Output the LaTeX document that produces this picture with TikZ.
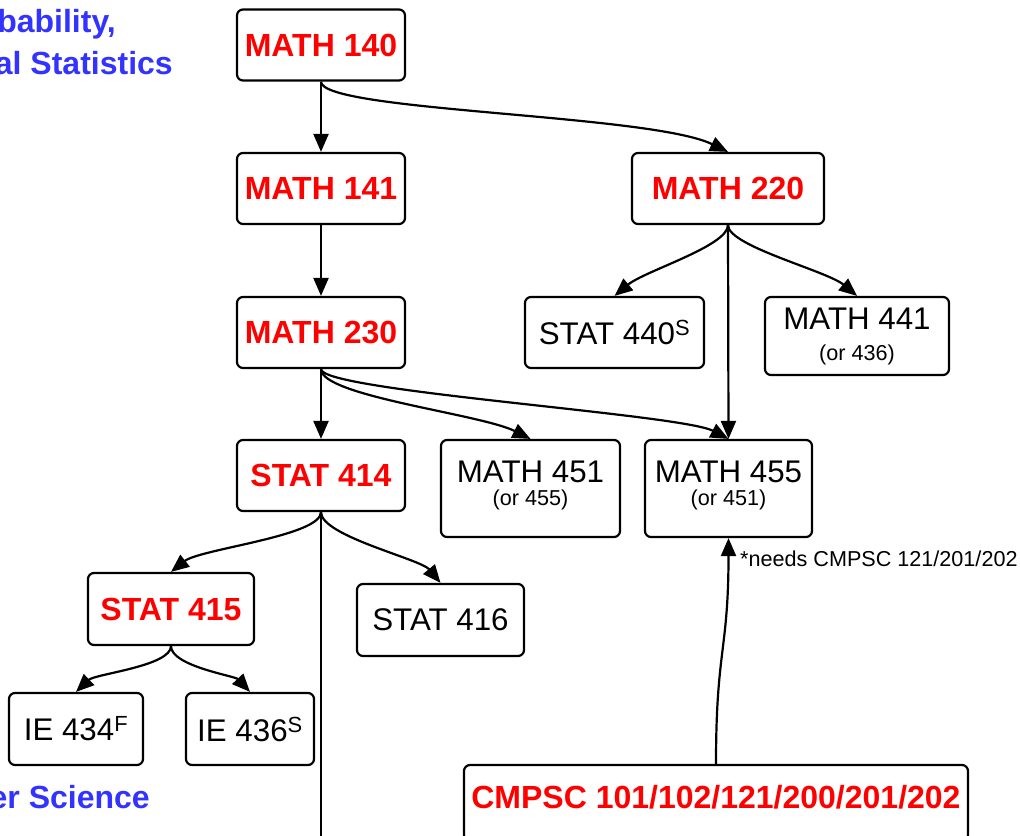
\documentclass[tikz,border=0pt]{standalone}
\usepackage{fontspec}
\setmainfont{Liberation Sans}
\usetikzlibrary{arrows.meta}
\definecolor{cred}{RGB}{255,0,0}
\definecolor{cblue}{RGB}{51,51,255}
\newcommand{\bigf}{\fontsize{31.3bp}{36bp}\selectfont}
\newcommand{\bigbf}{\fontsize{32bp}{36bp}\selectfont\bfseries}
\newcommand{\smallf}{\fontsize{21.6bp}{24bp}\selectfont}
\begin{document}
\begin{tikzpicture}[x=1bp,y=-1bp,
  box/.style={draw, line width=2.2bp, rounded corners=6bp, inner sep=0pt, font=\bigf, align=center, fill=white},
  redbox/.style={box, text=cred, font=\bigbf},
  arr/.style={line width=2.2bp, -{Triangle[length=18bp,width=15bp]}},
  plain/.style={line width=2.2bp},
  titletext/.style={text=cblue, font=\bigbf, inner sep=0pt, anchor=base east}
]
\useasboundingbox (0,0) rectangle (1020,836);
\begin{scope}
\clip (0,0) rectangle (1020,836);
% titles
\node[titletext] (t1) at (116,32) {bability,};
\node[titletext] (t2) at (173,74) {al Statistics};
\node[titletext] (t3) at (150,808) {er Science};
% boxes
\node[redbox, minimum width=168bp, minimum height=71bp] (m140) at (321,45) {MATH 140};
\node[redbox, minimum width=168bp, minimum height=71bp] (m141) at (321,188.5) {MATH 141};
\node[redbox, minimum width=168bp, minimum height=71bp] (m230) at (321,332.5) {MATH 230};
\node[redbox, minimum width=168bp, minimum height=71bp] (s414) at (321,475.5) {STAT 414};
\node[redbox, minimum width=192bp, minimum height=71bp] (m220) at (728,188.5) {MATH 220};
\node[box, minimum width=179bp, minimum height=71bp] (s440) at (614.5,332.5) {STAT 440\textsuperscript{S}};
\node[box, minimum width=184bp, minimum height=78bp, text depth=4.5bp] (m441) at (857,336) {MATH 441\\[-5bp]{\smallf (or 436)}};
\node[box, minimum width=179bp, minimum height=97bp, text depth=11.5bp] (m451) at (530.5,488.5) {MATH 451\\[-13bp]{\smallf (or 455)}};
\node[box, minimum width=167bp, minimum height=97bp, text depth=11.5bp] (m455) at (728.5,488.5) {MATH 455\\[-13bp]{\smallf (or 451)}};
\node[redbox, minimum width=166bp, minimum height=72bp] (s415) at (171,609) {STAT 415};
\node[box, minimum width=167bp, minimum height=72bp] (s416) at (440.5,620) {STAT 416};
\node[box, minimum width=134bp, minimum height=72bp] (ie434) at (76,729) {IE 434\textsuperscript{F}};
\node[box, minimum width=128bp, minimum height=72bp] (ie436) at (250,729) {IE 436\textsuperscript{S}};
\node[redbox, minimum width=504bp, minimum height=76bp, text height=22bp, text depth=12bp] (cmpsc) at (716,803) {CMPSC 101/102/121/200/201/202};
\node[anchor=base west, inner sep=0pt, font=\smallf] (needs) at (740,566) {*needs CMPSC 121/201/202};
\coordinate (bot) at (321,845);
% connectors
\draw[arr] (m140.south) -- (m141.north);
\draw[arr] (m140.south) .. controls +(0,30) and +(-78,-38) .. (m220.north);
\draw[arr] (m141.south) -- (m230.north);
\draw[arr] (m220.south) .. controls +(0,21) and +(30,-25) .. (s440.north);
\draw[arr] (m220.south) .. controls +(0,21) and +(-30,-25) .. (m441.north);
\draw[arr] (m220.south) -- (m455.north);
\draw[arr] (m230.south) -- (s414.north);
\draw[arr] (m230.south) .. controls +(0,27) and +(-50,-25) .. (m451.north);
\draw[arr] (m230.south) .. controls +(0,22) and +(-48,-25) .. (m455.north);
\draw[arr] (s414.south) .. controls +(0,24) and +(29,-23) .. (s415.north);
\draw[arr] (s414.south) .. controls +(0,24) and +(-20,-24) .. (s416.north);
\draw[plain] (s414.south) -- (bot);
\draw[arr] (s415.south) .. controls +(0,20) and +(19,-18) .. (ie434.north);
\draw[arr] (s415.south) .. controls +(0,20) and +(-15,-16) .. (ie436.north);
\draw[arr] (cmpsc.north) .. controls +(0,-115) and +(0,113) .. (m455.south);
\end{scope}
\end{tikzpicture}
\end{document}
